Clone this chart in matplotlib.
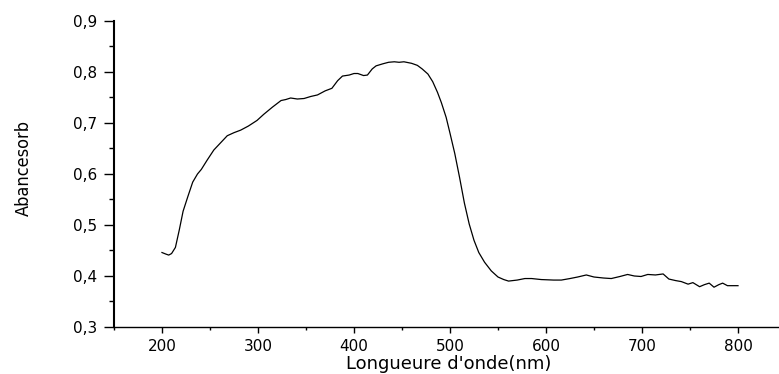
import matplotlib
matplotlib.use("Agg")
import matplotlib.pyplot as plt
from matplotlib.ticker import MultipleLocator, FuncFormatter

# wavelength (nm) and absorbance
wavelength = [200, 204, 207, 210, 214, 218, 222, 227, 232, 237, 241, 247, 254, 261, 268,
              275, 282, 290, 299, 306, 315, 324, 329, 334, 341, 348, 355, 362, 370, 377,
              383, 388, 395, 400, 404, 410, 414, 419, 423, 430, 436, 442, 447, 452, 460,
              466, 471, 477, 482, 487, 491, 496, 500, 505, 510, 515, 520, 525, 530, 536,
              543, 550, 556, 561, 570, 578, 585, 595, 608, 616, 625, 633, 642, 650, 660,
              668, 677, 685, 692, 699, 706, 714, 722, 728, 735, 741, 748, 753, 760, 765,
              770, 775, 780, 784, 789, 794, 800]
absorbance = [0.446, 0.443, 0.441, 0.444, 0.456, 0.490, 0.527, 0.556, 0.584, 0.600, 0.609,
              0.627, 0.647, 0.661, 0.675, 0.681, 0.686, 0.694, 0.705, 0.717, 0.731, 0.744,
              0.746, 0.749, 0.747, 0.748, 0.752, 0.755, 0.763, 0.768, 0.783, 0.792, 0.794,
              0.797, 0.797, 0.793, 0.794, 0.806, 0.812, 0.816, 0.819, 0.820, 0.819, 0.820,
              0.817, 0.813, 0.806, 0.796, 0.781, 0.760, 0.740, 0.711, 0.680, 0.640, 0.593,
              0.543, 0.502, 0.470, 0.446, 0.427, 0.410, 0.398, 0.393, 0.390, 0.392, 0.395,
              0.395, 0.393, 0.392, 0.392, 0.395, 0.398, 0.402, 0.398, 0.396, 0.395, 0.399,
              0.403, 0.400, 0.399, 0.403, 0.402, 0.404, 0.394, 0.391, 0.389, 0.384, 0.387,
              0.379, 0.383, 0.386, 0.378, 0.383, 0.386, 0.381, 0.381, 0.381]

fig = plt.figure(figsize=(7.79, 3.74), dpi=100)
ax = fig.add_axes([0.1463, 0.1257, 0.8627, 0.8182])

ax.plot(wavelength, absorbance, color="black", lw=0.9)

ax.set_xlim(150, 850)
ax.set_ylim(0.3, 0.9)

# only left and bottom axes
ax.spines["top"].set_visible(False)
ax.spines["right"].set_visible(False)
ax.spines["left"].set_linewidth(1.5)
ax.spines["bottom"].set_linewidth(1.0)

ax.xaxis.set_major_locator(MultipleLocator(100))
ax.xaxis.set_minor_locator(MultipleLocator(50))
ax.yaxis.set_major_locator(MultipleLocator(0.1))
ax.yaxis.set_minor_locator(MultipleLocator(0.05))
ax.yaxis.set_major_formatter(FuncFormatter(lambda v, p: f"{v:.1f}".replace(".", ",")))

ax.tick_params(axis="x", which="major", direction="out", length=4.3, width=1.0, pad=4, labelsize=11)
ax.tick_params(axis="x", which="minor", direction="out", length=2.2, width=1.0)
ax.tick_params(axis="y", which="major", direction="out", length=7, width=1.0, pad=5, labelsize=11)
ax.tick_params(axis="y", which="minor", direction="out", length=3.6, width=1.0)

ax.set_xlabel("Longueure d'onde(nm)", fontsize=13)
ax.xaxis.set_label_coords(0.498, -0.092)
ax.set_ylabel("Abancesorb", fontsize=13, family="DejaVu Sans", fontstretch="condensed")
ax.yaxis.set_label_coords(-0.12, 0.52)

fig.savefig("out.png", dpi=100)
